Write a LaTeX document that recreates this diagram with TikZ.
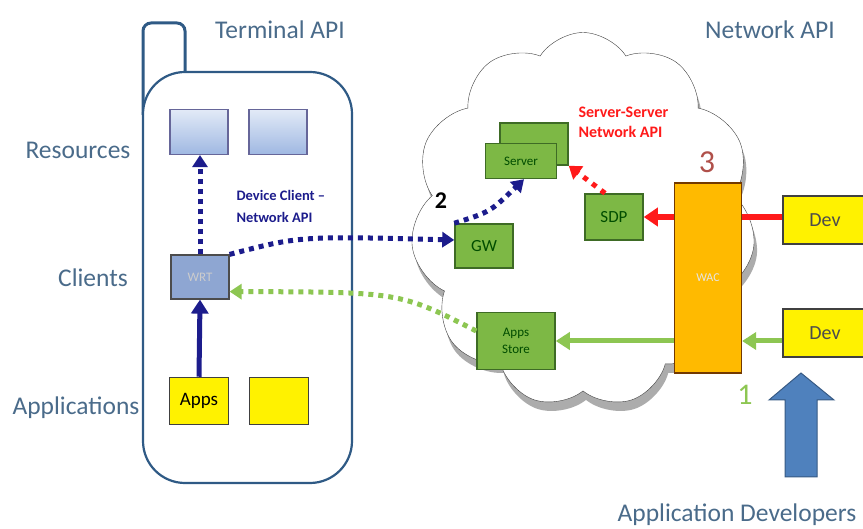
\documentclass[tikz,border=0pt]{standalone}
\usepackage{fontspec}
\setmainfont{Carlito}
\usetikzlibrary{arrows.meta,shapes.symbols,shadows}
\definecolor{labelblue}{HTML}{4A6B8A}
\definecolor{phoneblue}{HTML}{2F5A85}
\definecolor{navy}{HTML}{1C1C8C}
\definecolor{boxgreen}{HTML}{7DB845}
\definecolor{boxgreenb}{HTML}{3E6B25}
\definecolor{wacorange}{HTML}{FFBA00}
\definecolor{lightgreen}{HTML}{8DC652}
\definecolor{redarrow}{HTML}{FF1A1A}
\definecolor{bigblue}{HTML}{4F81BD}
\definecolor{restop}{HTML}{E2EAF7}
\definecolor{resbot}{HTML}{9FB8E2}
\definecolor{wrtblue}{HTML}{8EA6D2}
\definecolor{threered}{HTML}{B0504A}

\begin{document}
\begin{tikzpicture}[x=1pt,y=-1pt,
  lbl/.style={text=labelblue,font=\fontsize{25.5}{28}\selectfont},
  resbox/.style={draw=gray!80!blue,line width=1.2pt,top color=restop,bottom color=resbot,minimum width=58pt,minimum height=45pt},
  wrtbox/.style={draw=black!70,line width=1.2pt,fill=wrtblue,text=white!80!black,minimum width=58pt,minimum height=44pt,font=\fontsize{13}{14}\selectfont},
  appbox/.style={draw=black!75,line width=1.5pt,fill=yellow,minimum width=59pt,minimum height=47pt,font=\fontsize{19}{20}\selectfont},
  greenbox/.style={draw=boxgreenb,line width=1.5pt,fill=boxgreen,text=black!70!green,minimum width=58pt,minimum height=44pt,font=\fontsize{17}{18}\selectfont},
  wacbox/.style={draw=black!55!orange,line width=1.2pt,fill=wacorange,text=white!90!black,minimum width=67pt,minimum height=190pt,font=\fontsize{12}{13}\selectfont},
  devbox/.style={draw=black!75,line width=1.5pt,fill=yellow,text=black!70,minimum width=84pt,minimum height=48pt,font=\fontsize{20}{22}\selectfont},
  bluedots/.style={navy,line width=5pt,dash pattern=on 5pt off 5pt,-{Triangle[length=12pt,width=15pt]}},
  greendots/.style={lightgreen,line width=5pt,dash pattern=on 5pt off 5pt,-{Triangle[length=12pt,width=15pt]}},
  reddots/.style={redarrow,line width=5pt,dash pattern=on 5pt off 6pt,-{Triangle[length=12pt,width=16pt]}},
  redline/.style={redarrow,line width=6pt},
  greenline/.style={lightgreen,line width=5pt}]
\useasboundingbox (0,0) rectangle (863,529);

\draw[phoneblue,line width=3pt,rounded corners=8] (143,115) -- (143,23) -- (185,23) -- (185,72);
\draw[phoneblue,line width=2.2pt,fill=white,rounded corners=42] (143,72) rectangle (352,483);

\node[lbl] (terminal) at (280,30) {Terminal API};
\node[lbl] (network) at (770,30) {Network API};
\node[lbl] (resL) at (78,150) {Resources};
\node[lbl] (cliL) at (93,278) {Clients};
\node[lbl] (appL) at (76,408) {Applications};
\node[lbl] (devL) at (737,515) {Application Developers};

\node[resbox] (res1) at (199,132) {};
\node[resbox] (res2) at (278,132) {};
\node[wrtbox] (wrt) at (200,277) {WRT};
\node[appbox] (apps) at (199,401) {Apps};
\node[appbox] (app2) at (279,401) {};

\node[cloud,cloud puffs=11,cloud puff arc=115,aspect=0.9,draw=black!75,fill=white,
  drop shadow={shadow xshift=3pt,shadow yshift=-9pt,fill=gray!65,opacity=1},
  minimum width=345pt,minimum height=375pt] (net) at (583,220) {};

\node[greenbox,minimum width=68pt,minimum height=42pt] (server2) at (534,144) {};
\node[greenbox,minimum width=71pt,minimum height=35pt,font=\fontsize{13}{14}\selectfont] (server) at (521,161) {Server};
\node[greenbox] (gw) at (484,246) {GW};
\node[greenbox,minimum height=46pt] (sdp) at (614,217) {SDP};
\node[greenbox,minimum width=78pt,minimum height=57pt,align=center,font=\fontsize{13}{17}\selectfont] (store) at (516,341) {Apps\\Store};
\node[wacbox] (wac) at (708,278) {WAC};
\node[devbox] (dev1) at (825,220) {Dev};
\node[devbox] (dev2) at (825,333) {Dev};

\node[text=navy,font=\bfseries\fontsize{14.5}{22}\selectfont,align=left,anchor=west] (devapi) at (233,206) {Device Client --\\Network API};
\node[text=redarrow,font=\bfseries\fontsize{16}{20}\selectfont,align=left,anchor=west] (srvapi) at (575,122) {Server-Server\\Network API};
\node[font=\bfseries\fontsize{24}{26}\selectfont] (two) at (441,201) {2};
\node[text=threered,font=\fontsize{32}{34}\selectfont] (three) at (707,162) {3};
\node[text=lightgreen,font=\fontsize{30}{32}\selectfont] (one) at (745,395) {1};

\fill[bigblue,draw=bigblue!70!black,line width=1pt] (785,477) -- (785,400) -- (769,400) -- (801,373) -- (834,400) -- (817,400) -- (817,477) -- cycle;

\draw[navy,line width=5pt,-{Triangle[length=14pt,width=17pt]}] (apps.north) -- (wrt.south);
\draw[bluedots] (wrt.north) -- (wrt.north |- res1.south);
\draw[bluedots] (wrt.north east) .. controls (300,236) .. ([yshift=6pt]gw.west);
\draw[bluedots] (gw.north west) .. controls (490,212) .. ([xshift=3pt]server.south);
\draw[reddots] ([xshift=-9pt]sdp.north) -- (server2.south east);
\draw[redline] (dev1.west |- sdp.east) -- (sdp.east -| wac.east);
\draw[redline,-{Triangle[length=14pt,width=18pt]}] (sdp.east -| wac.west) -- (sdp.east);
\draw[greenline,-{Triangle[length=14pt,width=17pt]}] (dev2.west |- store.east) -- (store.east -| wac.east);
\draw[greenline,-{Triangle[length=14pt,width=17pt]}] (store.east -| wac.west) -- (store.east);
\draw[greendots] ([yshift=10pt]store.west) .. controls (400,292) .. ([yshift=8pt]wrt.south east);
\end{tikzpicture}
\end{document}
